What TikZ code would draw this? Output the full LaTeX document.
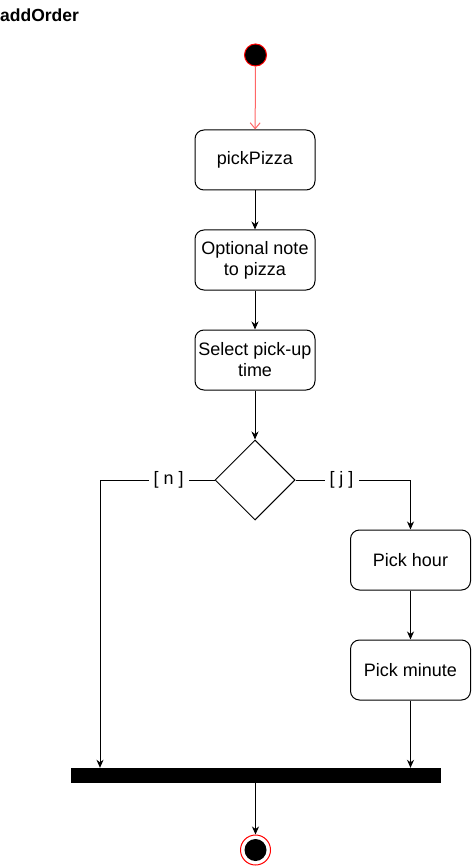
\documentclass[tikz,border=0pt]{standalone}
\usepackage{fontspec}
\setmainfont{Liberation Sans}
\usetikzlibrary{shapes.geometric,arrows.meta}
\begin{document}
\begin{tikzpicture}[x=1pt,y=-1pt,
  every node/.style={font=\fontsize{18}{21}\selectfont},
  act/.style={draw, line width=1pt, rounded corners=9pt, minimum width=120pt, minimum height=60pt, inner sep=0pt, align=center, fill=white},
  arr/.style={line width=1pt, -{Stealth[length=8pt,width=7pt,inset=2.5pt]}},
  redarr/.style={line width=1pt, draw=red!60, -{Straight Barb[length=6pt,width=10pt]}},
  lbl/.style={fill=white, inner xsep=5pt, inner ysep=2pt}
]
\useasboundingbox (0,0) rectangle (471,866);
\node[anchor=west, inner sep=0pt, font=\fontsize{17.5}{21}\selectfont\bfseries] (title) at (0,15) {addOrder};
\node[circle, draw=red, line width=1pt, fill=black, minimum size=22pt, inner sep=0pt] (start) at (255.5,55) {};
\node[act] (pick) at (255,160) {pickPizza};
\node[act] (note) at (255,260) {Optional note\\to pizza};
\node[act] (sel) at (255,360) {Select pick-up\\time};
\node[diamond, draw, line width=1pt, minimum width=80pt, minimum height=80pt, inner sep=0pt, aspect=1] (dec) at (255,480) {};
\node[act] (hour) at (410.5,560) {Pick hour};
\node[act] (minute) at (410.5,670) {Pick minute};
\node[rectangle, fill=black, minimum width=370pt, minimum height=15pt, inner sep=0pt] (bar) at (255.5,775.5) {};
\node[circle, draw=red, line width=1pt, fill=white, minimum size=30pt, inner sep=0pt] (endo) at (255.5,850) {};
\node[circle, fill=black, minimum size=22pt, inner sep=0pt] (endi) at (255.5,850) {};
\coordinate (nx) at (100,0);

\draw[redarr] (start) -- (pick);
\draw[arr] (pick) -- (note);
\draw[arr] (note) -- (sel);
\draw[arr] (sel) -- (dec);
\draw[arr] (dec.west) -| node[lbl, pos=0.2] {[ n ]} (bar.north -| nx);
\draw[arr] (dec.east) -| node[lbl, pos=0.2] {[ j ]} (hour.north);
\draw[arr] (hour) -- (minute);
\draw[arr] (minute.south) -- (bar.north -| minute.south);
\draw[arr] (bar.south -| endo) -- (endo);
\end{tikzpicture}
\end{document}
